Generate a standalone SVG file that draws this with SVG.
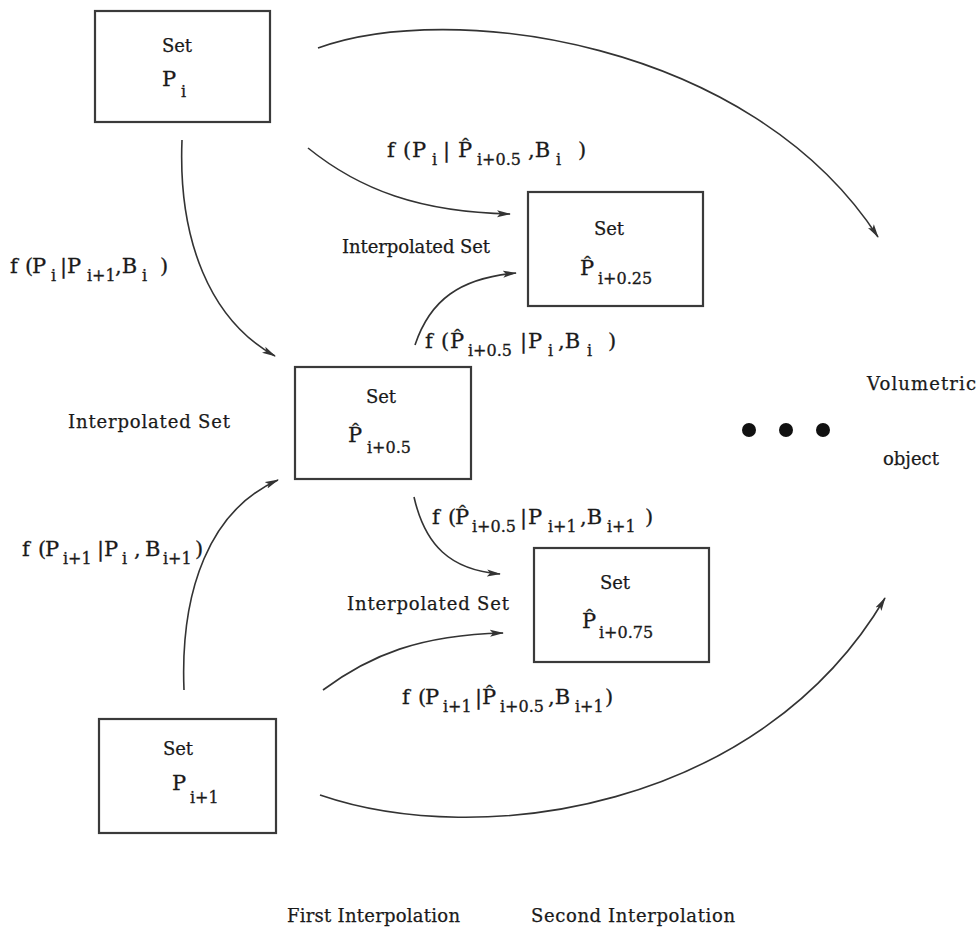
<svg xmlns="http://www.w3.org/2000/svg" width="980" height="933" viewBox="0 0 980 933">
<style>
.box{fill:#fff;stroke:#3a3a3a;stroke-width:2.2}
.t{font-family:"DejaVu Serif","Liberation Serif",serif;font-size:21px;fill:#1a1a1a;stroke:#1a1a1a;stroke-width:0.3}
.lb{font-family:"DejaVu Serif","Liberation Serif",serif;font-size:18px;fill:#1a1a1a;stroke:#1a1a1a;stroke-width:0.25}
.s{font-size:16px}
.c{fill:none;stroke:#333;stroke-width:1.6;marker-end:url(#ah)}
</style>
<defs>
<marker id="ah" viewBox="0 0 14 8" refX="13" refY="4" markerWidth="14" markerHeight="8" markerUnits="userSpaceOnUse" orient="auto">
<path d="M0,0.5 L14,4 L0,7.5 L3,4 z" fill="#333"/>
</marker>
</defs>
<rect width="980" height="933" fill="#fff"/>

<g id="connectors">
<path class="c" d="M318,48 C450,0 750,40 878,237"/>
<path class="c" d="M308,148 C360,190 420,212 510,214"/>
<path class="c" d="M182,140 C178,240 210,320 275,356"/>
<path class="c" d="M415,345 C430,300 460,278 516,273"/>
<path class="c" d="M414,497 C425,545 450,570 500,574"/>
<path class="c" d="M184,690 C180,590 210,510 278,480"/>
<path class="c" d="M323,690 C370,655 420,635 503,633"/>
<path class="c" d="M320,795 C480,850 760,810 885,598"/>
</g>

<g id="node-Pi">
<rect class="box" x="95" y="11" width="175" height="111"/>
<text class="lb" x="177" y="52" font-size="19" text-anchor="middle">Set</text>
<text class="t" x="162" y="86">P</text>
<text class="t s" x="181" y="97">i</text>
</g>

<g id="node-P025">
<rect class="box" x="528" y="192" width="175" height="114"/>
<text class="lb" x="609" y="235" font-size="19" text-anchor="middle">Set</text>
<text class="t" x="580" y="275">P&#x302;</text>
<text class="t s" x="598" y="284">i+0.25</text>
</g>

<g id="node-P05">
<rect class="box" x="295" y="367" width="176" height="112"/>
<text class="lb" x="381" y="403" font-size="19" text-anchor="middle">Set</text>
<text class="t" x="348" y="442">P&#x302;</text>
<text class="t s" x="367" y="453">i+0.5</text>
</g>

<g id="node-P075">
<rect class="box" x="534" y="548" width="175" height="114"/>
<text class="lb" x="615" y="589" font-size="19" text-anchor="middle">Set</text>
<text class="t" x="582" y="628">P&#x302;</text>
<text class="t s" x="599" y="638">i+0.75</text>
</g>

<g id="node-Pi1">
<rect class="box" x="99" y="719" width="177" height="114"/>
<text class="lb" x="178" y="755" font-size="19" text-anchor="middle">Set</text>
<text class="t" x="172" y="790">P</text>
<text class="t s" x="190" y="803">i+1</text>
</g>

<g id="node-volumetric">
<circle cx="749" cy="430" r="7" fill="#111"/>
<circle cx="786" cy="430" r="7" fill="#111"/>
<circle cx="823" cy="430" r="7" fill="#111"/>
<text class="lb" x="867" y="390" font-size="20" textLength="109">Volumetric</text>
<text class="lb" x="883" y="465" font-size="20">object</text>
</g>

<g id="labels">
<text class="lb" x="342" y="253" textLength="148">Interpolated Set</text>
<text class="lb" x="68" y="428" textLength="162">Interpolated Set</text>
<text class="lb" x="347" y="610" textLength="162">Interpolated Set</text>

<text class="t" y="157"><tspan x="387">f</tspan><tspan x="403">(</tspan><tspan x="412">P</tspan><tspan x="432" dy="8" class="s">i</tspan><tspan x="443" dy="-8">|</tspan><tspan x="458">P&#x302;</tspan><tspan x="477" dy="8" class="s">i+0.5</tspan><tspan x="528" dy="-8">,B</tspan><tspan x="556" dy="8" class="s">i</tspan><tspan x="578" dy="-8">)</tspan></text>

<text class="t" y="273"><tspan x="10">f</tspan><tspan x="25">(</tspan><tspan x="32">P</tspan><tspan x="51" dy="8" class="s">i</tspan><tspan x="60" dy="-8">|</tspan><tspan x="67">P</tspan><tspan x="87" dy="8" class="s">i+1</tspan><tspan x="115" dy="-8">,B</tspan><tspan x="142" dy="8" class="s">i</tspan><tspan x="160" dy="-8">)</tspan></text>

<text class="t" y="348"><tspan x="425">f</tspan><tspan x="441">(</tspan><tspan x="450">P&#x302;</tspan><tspan x="468" dy="8" class="s">i+0.5</tspan><tspan x="520" dy="-8">|</tspan><tspan x="528">P</tspan><tspan x="548" dy="8" class="s">i</tspan><tspan x="558" dy="-8">,B</tspan><tspan x="587" dy="8" class="s">i</tspan><tspan x="608" dy="-8">)</tspan></text>

<text class="t" y="524"><tspan x="432">f</tspan><tspan x="448">(</tspan><tspan x="455">P&#x302;</tspan><tspan x="472" dy="8" class="s">i+0.5</tspan><tspan x="520" dy="-8">|</tspan><tspan x="528">P</tspan><tspan x="548" dy="8" class="s">i+1</tspan><tspan x="580" dy="-8">,B</tspan><tspan x="607" dy="8" class="s">i+1</tspan><tspan x="645" dy="-8">)</tspan></text>

<text class="t" y="556"><tspan x="22">f</tspan><tspan x="38">(</tspan><tspan x="45">P</tspan><tspan x="63" dy="8" class="s">i+1</tspan><tspan x="97" dy="-8">|</tspan><tspan x="104">P</tspan><tspan x="122" dy="8" class="s">i</tspan><tspan x="134" dy="-8">,</tspan><tspan x="145">B</tspan><tspan x="163" dy="8" class="s">i+1</tspan><tspan x="195" dy="-8">)</tspan></text>

<text class="t" y="704"><tspan x="402">f</tspan><tspan x="418">(</tspan><tspan x="425">P</tspan><tspan x="443" dy="8" class="s">i+1</tspan><tspan x="475" dy="-8">|</tspan><tspan x="482">P&#x302;</tspan><tspan x="500" dy="8" class="s">i+0.5</tspan><tspan x="548" dy="-8">,B</tspan><tspan x="575" dy="8" class="s">i+1</tspan><tspan x="605" dy="-8">)</tspan></text>

<text class="lb" x="287" y="922" textLength="173">First Interpolation</text>
<text class="lb" x="531" y="922" textLength="204">Second Interpolation</text>
</g>
</svg>
